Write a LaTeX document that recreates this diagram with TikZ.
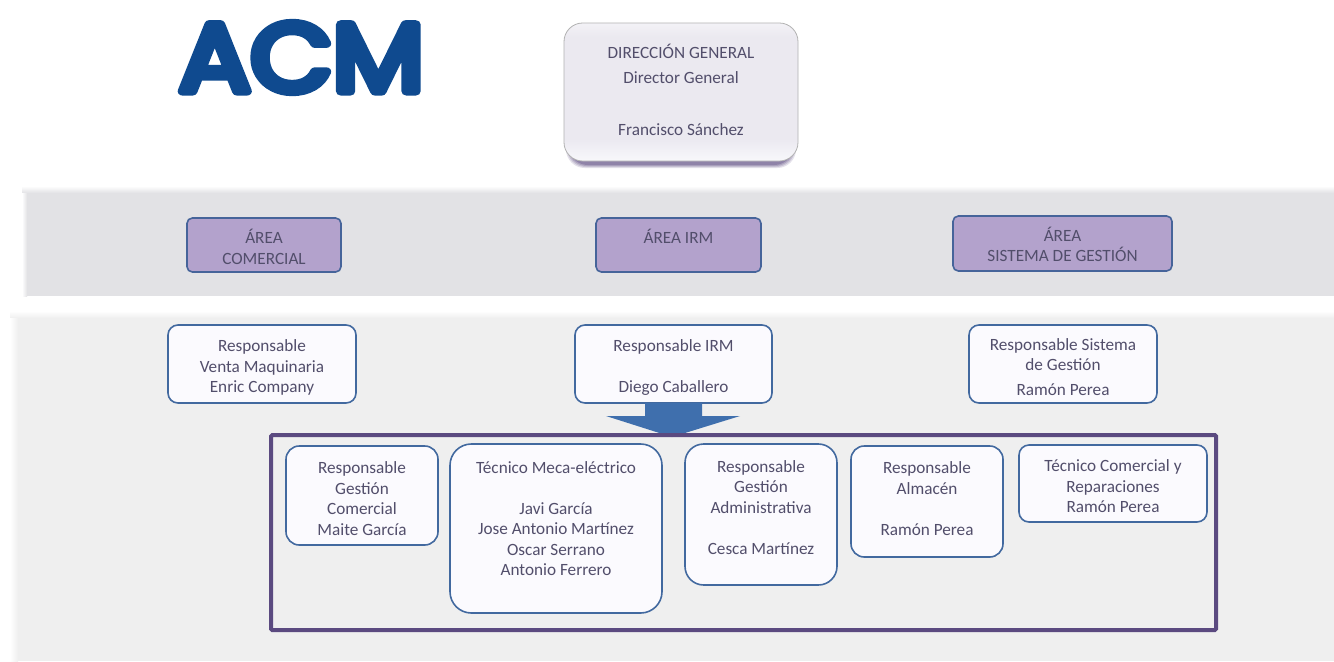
\documentclass[tikz,border=0pt]{standalone}
\usepackage{fontspec}
\setmainfont{Carlito}
\newfontfamily\logofont[FakeBold=9]{Poppins}
\usetikzlibrary{calc}
\definecolor{txt}{HTML}{524E6B}
\definecolor{edge}{HTML}{42699F}
\definecolor{purp}{HTML}{5B4A80}
\definecolor{areafill}{HTML}{B3A2CC}
\definecolor{cardfill}{HTML}{FBFAFE}
\definecolor{bandA}{HTML}{E2E2E5}
\definecolor{bandB}{HTML}{EFEFEF}
\definecolor{logoblue}{HTML}{0F4A8F}
\definecolor{arrowblue}{HTML}{3F6FAD}
\definecolor{dirtop}{HTML}{F3F2F6}
\definecolor{dirmid}{HTML}{EBE9F0}
\definecolor{dirbot}{HTML}{F8F8FB}
\pgfdeclareverticalshading{dirshade}{100bp}{color(0bp)=(dirbot); color(25bp)=(dirbot); color(33bp)=(dirmid); color(70bp)=(dirmid); color(75bp)=(dirtop); color(100bp)=(dirtop)}
\tikzset{
  x=0.75pt,y=-0.75pt,
  box/.style={draw=edge,line width=1.2pt,rounded corners=7.5pt,fill=cardfill,inner sep=0pt},
  areabox/.style={draw=edge!85!purp,line width=1.2pt,rounded corners=4pt,fill=areafill,inner sep=0pt},
  lbl/.style={text=txt,align=center,font=\fontsize{12.9pt}{15.4pt}\selectfont,inner sep=0pt},
}
\newcommand{\cardbox}[7][box]{%
  \node[#1,minimum width=#4*0.75pt,minimum height=#5*0.75pt] (#2) at (#3) {};%
  \node[lbl] (#2t) at ($(#2.center)+(#6)$) {#7};%
}
\begin{document}
\begin{tikzpicture}
\useasboundingbox (0,0) rectangle (1334,661);
\fill[white] (0,0) rectangle (1334,661);
% bands with soft edges
\fill[bandA] (27,193) rectangle (1334,296);
\shade[top color=white,bottom color=bandA] (22,186) rectangle (1334,193);
\shade[left color=white,right color=bandA] (22,193) rectangle (27,296);
\fill[bandB] (18,318) rectangle (1334,661);
\shade[top color=white,bottom color=bandB] (10,311) rectangle (1334,318);
\shade[left color=white,right color=bandB] (10,318) rectangle (18,661);
% logo
\node[inner sep=0pt,text=logoblue] (logo) at (301.5,57.5) {\resizebox{245\dimexpr0.75pt\relax}{68\dimexpr0.75pt\relax}{\special{pdf:code 1 j 1 J}\logofont ACM}};
% direction
\foreach \g/\o in {0/0.16,1/0.2,2/0.25,3/0.35}
  \fill[purp,opacity=\o,rounded corners=14pt] (566+\g,44) rectangle (796-\g,168-\g);
\node[draw=black!30,line width=0.6pt,rounded corners=14pt,shade,shading=dirshade,minimum width=234*0.75pt,minimum height=138*0.75pt,inner sep=0pt] (dir) at (681,92) {};
\node[lbl] (dirt) at (681,90) {DIRECCIÓN GENERAL\\[3.8pt]Director General\\[23.6pt]Francisco Sánchez};
% areas
\cardbox[areabox]{a1}{264,245}{154}{54}{0,2}{ÁREA\\COMERCIAL}
\cardbox[areabox]{a2}{678.5,245}{165}{54}{0,-9}{ÁREA IRM}
\cardbox[areabox]{a3}{1062.5,243.5}{219}{55}{0,1}{ÁREA\\SISTEMA DE GESTIÓN}
% responsables
\cardbox{r1}{262,364}{188}{78}{0,3.5}{Responsable\\Venta Maquinaria\\Enric Company}
\cardbox{r2}{673.5,364}{197}{78}{0,3.5}{Responsable IRM\\[16pt]Diego Caballero}
\cardbox{r3}{1063,364}{188}{78}{0,3}{Responsable Sistema\\de Gestión\\[3pt]Ramón Perea}
% arrow
\fill[arrowblue] (645,403) -- (702,403) -- (702,416) -- (740,416) -- (672,437) -- (606,416) -- (645,416) -- cycle;
% frame
\node[draw=purp,line width=3pt,rounded corners=1pt,minimum width=945*0.75pt,minimum height=195*0.75pt,inner sep=0pt] (frame) at (743.5,532.5) {};
% inner
\cardbox[box,rounded corners=10pt]{c1}{362,495.5}{152}{99}{0,3}{Responsable\\Gestión\\Comercial\\Maite García}
\cardbox[box,rounded corners=16pt]{c2}{556,528.5}{212}{169}{0,-10}{Técnico Meca-eléctrico\\[15.4pt]Javi García\\Jose Antonio Martínez\\Oscar Serrano\\Antonio Ferrero}
\cardbox[box,rounded corners=14pt]{c3}{761,514.5}{152}{141}{0,-7}{Responsable\\Gestión\\Administrativa\\[15.4pt]Cesca Martínez}
\cardbox[box,rounded corners=10pt]{c4}{927,501.5}{152}{111}{0,-3}{Responsable\\Almacén\\[15.4pt]Ramón Perea}
\cardbox{c5}{1113,483.5}{188}{77}{0,3}{Técnico Comercial y\\Reparaciones\\Ramón Perea}
\end{tikzpicture}
\end{document}
